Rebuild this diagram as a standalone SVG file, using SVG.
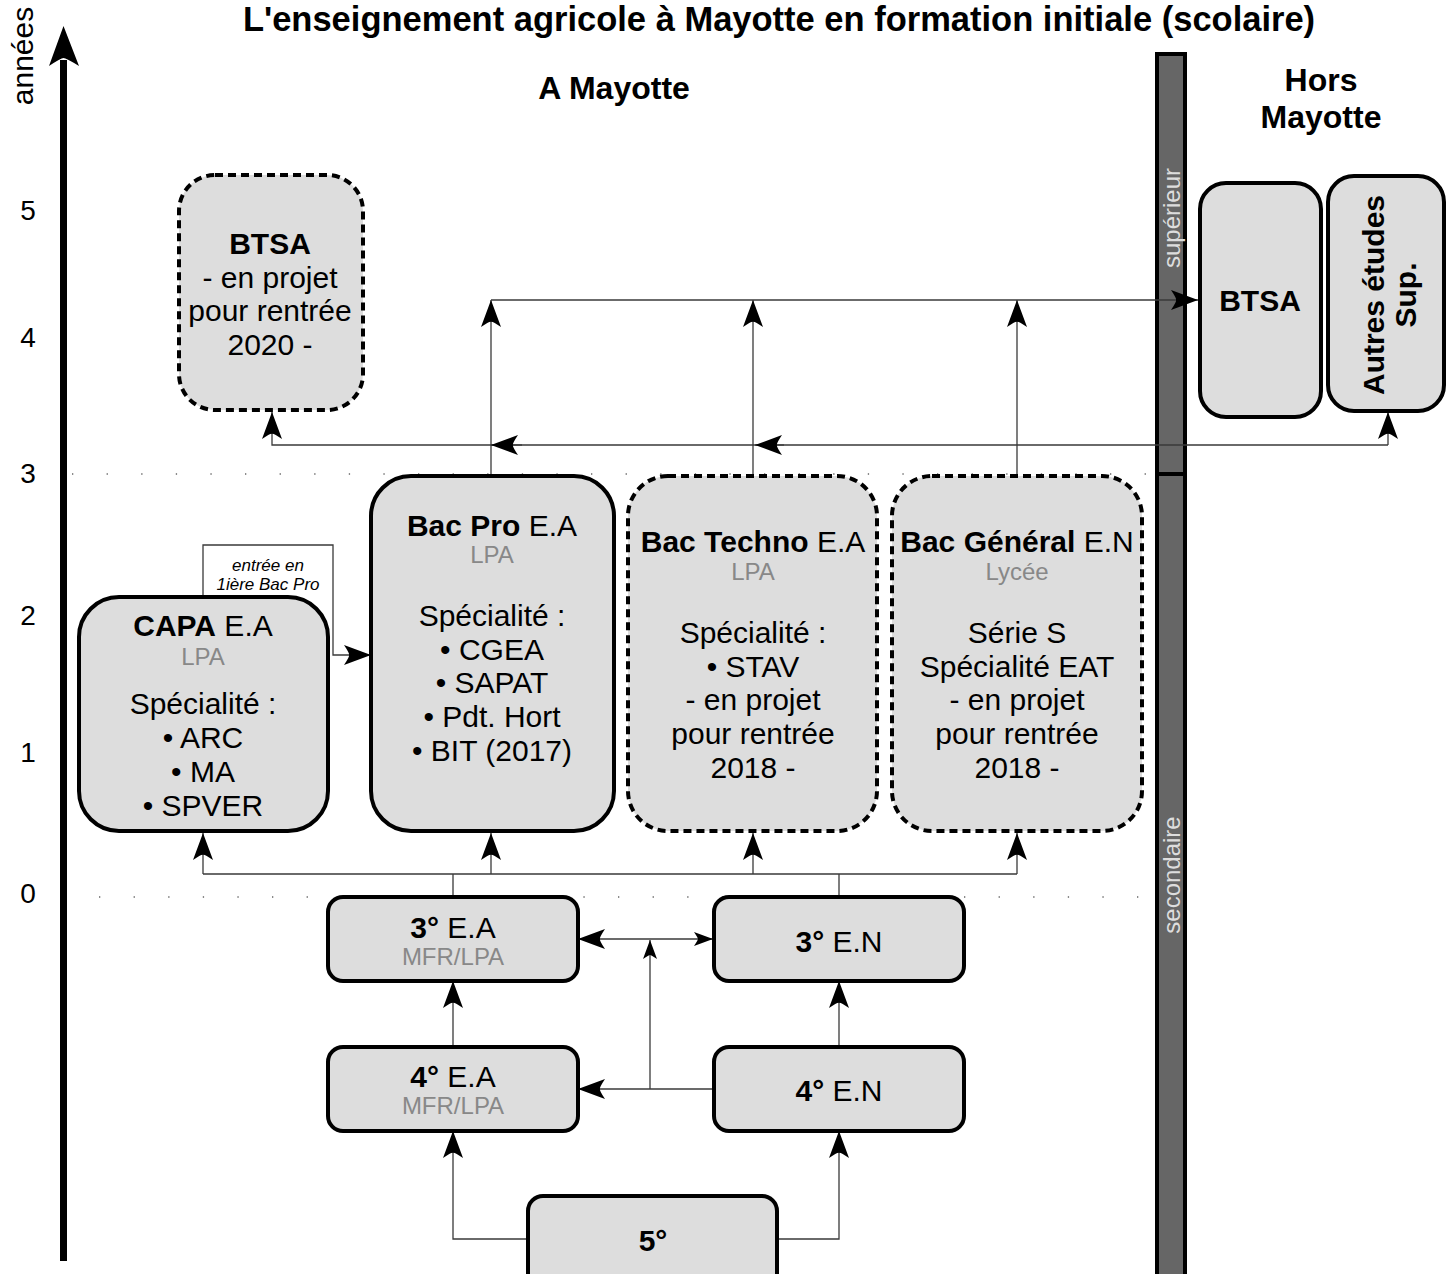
<svg xmlns="http://www.w3.org/2000/svg" width="1447" height="1274" viewBox="0 0 1447 1274">
<style>
text{font-family:"Liberation Sans",Arial,sans-serif;fill:#000}
.t{font-size:30px;text-anchor:middle}
.b{font-weight:bold}
.g{font-size:24px;fill:#888;text-anchor:middle}
.h{font-size:32px;font-weight:bold;text-anchor:middle}
.n{font-size:28px;text-anchor:middle}
.box{fill:#dddddd;stroke:#000;stroke-width:4}
.dash{stroke-dasharray:8 5}
.c{fill:none;stroke:#3a3a3a;stroke-width:1.3}
.ab{marker-end:url(#big)}
.as{marker-end:url(#small)}
.dots{stroke:#666;stroke-width:1.3;stroke-dasharray:1.3 33.3}
.bar{font-size:24px;fill:#dddddd;text-anchor:middle}
</style>
<defs>
<marker id="big" markerUnits="userSpaceOnUse" markerWidth="30" markerHeight="24" viewBox="-28 -12 30 24" refX="0" refY="0" orient="auto" overflow="visible">
<path d="M0,0 L-27,-10 Q-21,-1 -22,0 Q-21,1 -27,10 Z" fill="#000"/>
</marker>
<marker id="small" markerUnits="userSpaceOnUse" markerWidth="22" markerHeight="16" viewBox="-20 -8 22 16" refX="0" refY="0" orient="auto" overflow="visible">
<path d="M0,0 L-19,-7 Q-15,-1 -15,0 Q-15,1 -19,7 Z" fill="#000"/>
</marker>
</defs>
<rect width="1447" height="1274" fill="#fff"/>

<g id="title">
<text x="779" y="31" font-size="34.5" font-weight="bold" text-anchor="middle">L'enseignement agricole à Mayotte en formation initiale (scolaire)</text>
</g>

<g id="axis">
<line x1="63.5" y1="1261" x2="63.5" y2="60" stroke="#000" stroke-width="7"/>
<path d="M63.5,26 L79,66 Q66,58 63.5,58 Q61,58 49,66 Z" fill="#000"/>
<text transform="translate(33,56) rotate(-90)" font-size="30" text-anchor="middle">années</text>
<text class="n" x="28" y="220">5</text>
<text class="n" x="28" y="347">4</text>
<text class="n" x="28" y="483">3</text>
<text class="n" x="28" y="625">2</text>
<text class="n" x="28" y="762">1</text>
<text class="n" x="28" y="903">0</text>
</g>

<g id="gridlines">
<line class="dots" x1="72" y1="474" x2="1152" y2="474"/>
<line class="dots" x1="99" y1="897" x2="1152" y2="897"/>
</g>

<g id="headers">
<text class="h" x="614" y="99">A Mayotte</text>
<text class="h" x="1321" y="91">Hors</text>
<text class="h" x="1321" y="128">Mayotte</text>
</g>

<g id="separator">
<rect x="1157" y="54" width="28" height="1240" fill="#666" stroke="#000" stroke-width="4"/>
<line x1="1157" y1="474" x2="1185" y2="474" stroke="#000" stroke-width="4"/>
<text class="bar" transform="translate(1180,218) rotate(-90)">supérieur</text>
<text class="bar" transform="translate(1180,875) rotate(-90)">secondaire</text>
</g>

<g id="connectors">
<path class="c ab" d="M203,596 V545 H333 V655 H371"/>
<path class="c" d="M203,874 H1017 M453,897 V874 M839,897 V874"/>
<path class="c ab" d="M203,874 V833"/>
<path class="c ab" d="M491,874 V833"/>
<path class="c ab" d="M753,874 V833"/>
<path class="c ab" d="M1017,874 V833"/>
<path class="c ab" d="M491,475 V300"/>
<path class="c ab" d="M753,475 V300"/>
<path class="c ab" d="M1017,475 V300"/>
<path class="c ab" d="M491,300 H1198"/>
<path class="c ab" d="M1388,445 H272 V412"/>
<path class="c ab" d="M1388,445 V412"/>
<path class="c ab" d="M522,445 H491"/>
<path class="c ab" d="M784,445 H755"/>
<path class="c ab" d="M650,939 H578"/>
<path class="c as" d="M650,939 H713"/>
<path class="c as" d="M650,1089 V940"/>
<path class="c ab" d="M714,1089 H578"/>
<path class="c ab" d="M453,1047 V981"/>
<path class="c ab" d="M839,1047 V981"/>
<path class="c ab" d="M528,1239 H453 V1131"/>
<path class="c ab" d="M777,1239 H839 V1131"/>
</g>

<g id="label-entree">
<text x="268" y="571" font-size="17" font-style="italic" text-anchor="middle">entrée en</text>
<text x="268" y="590" font-size="17" font-style="italic" text-anchor="middle">1ière Bac Pro</text>
</g>

<g id="node-btsa-projet">
<rect class="box dash" x="179" y="175" width="184" height="235" rx="36"/>
<text class="t b" x="270" y="254">BTSA</text>
<text class="t" x="270" y="288">- en projet</text>
<text class="t" x="270" y="321">pour rentrée</text>
<text class="t" x="270" y="355">2020 -</text>
</g>

<g id="node-capa">
<rect class="box" x="79" y="597" width="249" height="234" rx="40"/>
<text class="t" x="203" y="636"><tspan class="b">CAPA</tspan> E.A</text>
<text class="g" x="203" y="665">LPA</text>
<text class="t" x="203" y="714">Spécialité :</text>
<text class="t" x="203" y="748">• ARC</text>
<text class="t" x="203" y="782">• MA</text>
<text class="t" x="203" y="816">• SPVER</text>
</g>

<g id="node-bacpro">
<rect class="box" x="371" y="476" width="243" height="355" rx="40"/>
<text class="t" x="492" y="536"><tspan class="b">Bac Pro</tspan> E.A</text>
<text class="g" x="492" y="563">LPA</text>
<text class="t" x="492" y="626">Spécialité :</text>
<text class="t" x="492" y="660">• CGEA</text>
<text class="t" x="492" y="693">• SAPAT</text>
<text class="t" x="492" y="727">• Pdt. Hort</text>
<text class="t" x="492" y="761">• BIT (2017)</text>
</g>

<g id="node-bactechno">
<rect class="box dash" x="628" y="476" width="249" height="355" rx="40"/>
<text class="t" x="753" y="552"><tspan class="b">Bac Techno</tspan> E.A</text>
<text class="g" x="753" y="580">LPA</text>
<text class="t" x="753" y="643">Spécialité :</text>
<text class="t" x="753" y="677">• STAV</text>
<text class="t" x="753" y="710">- en projet</text>
<text class="t" x="753" y="744">pour rentrée</text>
<text class="t" x="753" y="778">2018 -</text>
</g>

<g id="node-bacgeneral">
<rect class="box dash" x="892" y="476" width="250" height="355" rx="40"/>
<text class="t" x="1017" y="552"><tspan class="b">Bac Général</tspan> E.N</text>
<text class="g" x="1017" y="580">Lycée</text>
<text class="t" x="1017" y="643">Série S</text>
<text class="t" x="1017" y="677">Spécialité EAT</text>
<text class="t" x="1017" y="710">- en projet</text>
<text class="t" x="1017" y="744">pour rentrée</text>
<text class="t" x="1017" y="778">2018 -</text>
</g>

<g id="node-3ea">
<rect class="box" x="328" y="897" width="250" height="84" rx="15"/>
<text class="t" x="453" y="938"><tspan class="b">3°</tspan> E.A</text>
<text class="g" x="453" y="965">MFR/LPA</text>
</g>

<g id="node-3en">
<rect class="box" x="714" y="897" width="250" height="84" rx="15"/>
<text class="t" x="839" y="952"><tspan class="b">3°</tspan> E.N</text>
</g>

<g id="node-4ea">
<rect class="box" x="328" y="1047" width="250" height="84" rx="15"/>
<text class="t" x="453" y="1087"><tspan class="b">4°</tspan> E.A</text>
<text class="g" x="453" y="1114">MFR/LPA</text>
</g>

<g id="node-4en">
<rect class="box" x="714" y="1047" width="250" height="84" rx="15"/>
<text class="t" x="839" y="1101"><tspan class="b">4°</tspan> E.N</text>
</g>

<g id="node-5">
<rect class="box" x="528" y="1196" width="249" height="110" rx="15"/>
<text class="t b" x="653" y="1251">5°</text>
</g>

<g id="node-btsa">
<rect class="box" x="1200" y="183" width="121" height="234" rx="26"/>
<text class="t b" x="1260" y="311">BTSA</text>
</g>

<g id="node-autres">
<rect class="box" x="1328" y="176" width="116" height="235" rx="26"/>
<text class="t b" transform="translate(1384,295) rotate(-90)">Autres études</text>
<text class="t b" transform="translate(1416,295) rotate(-90)">Sup.</text>
</g>
</svg>
